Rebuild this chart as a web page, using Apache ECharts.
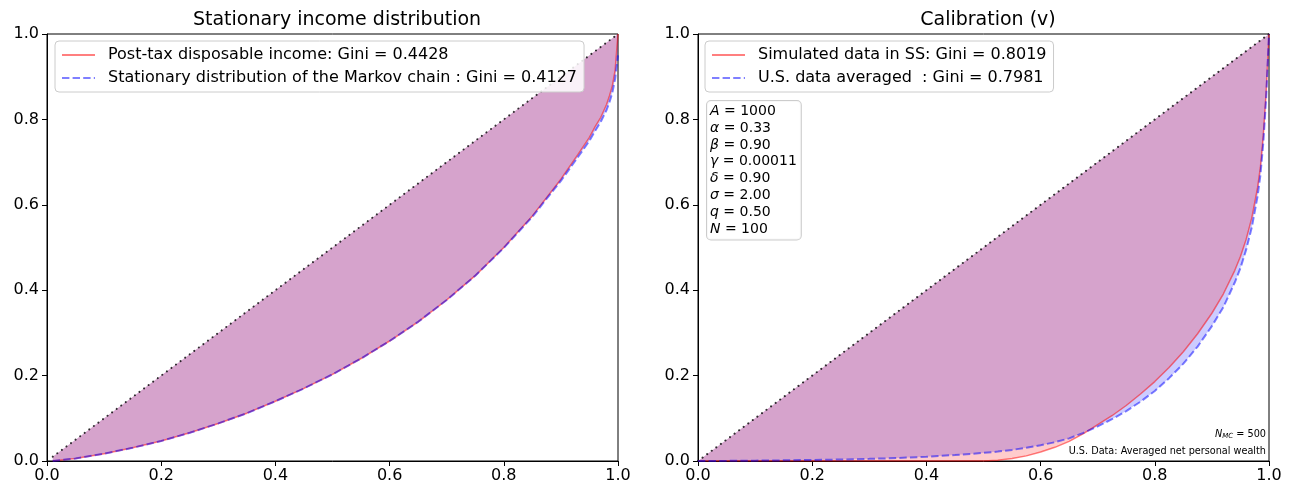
<!DOCTYPE html>
<html>
<head>
<meta charset="utf-8">
<script src="https://cdn.jsdelivr.net/npm/echarts@6/dist/echarts.min.js"></script>
<style>
  html, body { margin: 0; padding: 0; background: #fff; }
  #chart { width: 1293px; height: 488px; }
</style>
</head>
<body>
<div id="chart"></div>
<script>
// Population shares (x) and cumulative shares (y) for the Lorenz curves.
const incomePopShare = [0.01, 0.05, 0.10, 0.15, 0.20, 0.25, 0.30, 0.35, 0.40, 0.45, 0.50, 0.55, 0.60,
  0.65, 0.70, 0.75, 0.80, 0.85, 0.90, 0.93, 0.95, 0.96, 0.97, 0.98, 0.985, 0.99, 0.995, 1.00];
const postTaxIncome = [0.000, 0.006, 0.017, 0.031, 0.047, 0.066, 0.088, 0.112, 0.140, 0.170, 0.203, 0.240, 0.281,
  0.326, 0.377, 0.434, 0.500, 0.574, 0.660, 0.718, 0.758, 0.783, 0.805, 0.835, 0.855, 0.878, 0.915, 1.000];
const markovStationary = [0.000, 0.006, 0.017, 0.031, 0.047, 0.066, 0.088, 0.112, 0.140, 0.170, 0.203, 0.240, 0.281,
  0.326, 0.377, 0.434, 0.499, 0.572, 0.656, 0.712, 0.750, 0.773, 0.795, 0.822, 0.840, 0.862, 0.895, 0.950];

const wealthPopShare = [0.00, 0.05, 0.10, 0.15, 0.20, 0.25, 0.30, 0.35, 0.40, 0.45, 0.50, 0.525, 0.55, 0.575,
  0.60, 0.625, 0.65, 0.675, 0.70, 0.725, 0.75, 0.775, 0.80, 0.825, 0.85, 0.875, 0.90, 0.92, 0.94, 0.95,
  0.96, 0.97, 0.98, 0.985, 0.99, 0.995, 1.00];
const simulatedWealth = [0, 0, 0, 0, 0, 0, 0, 0, 0, 0, 0.000, 0.002, 0.006, 0.012,
  0.021, 0.032, 0.046, 0.064, 0.085, 0.106, 0.130, 0.157, 0.186, 0.219, 0.256, 0.298, 0.346, 0.391, 0.446, 0.479,
  0.519, 0.570, 0.640, 0.688, 0.762, 0.862, 1.000];
const usWealth = [0, 0.0003, 0.0008, 0.0015, 0.0025, 0.0035, 0.005, 0.007, 0.010, 0.014, 0.019, 0.022, 0.026, 0.031,
  0.037, 0.044, 0.053, 0.066, 0.081, 0.098, 0.117, 0.139, 0.164, 0.194, 0.228, 0.268, 0.316, 0.360, 0.418, 0.452,
  0.495, 0.548, 0.620, 0.670, 0.745, 0.850, 1.000];

const panelTitles = ['Stationary income distribution', 'Calibration (v)'];
const seriesNames = [
  'Post-tax disposable income: Gini = 0.4428',
  'Stationary distribution of the Markov chain : Gini = 0.4127',
  'Simulated data in SS: Gini = 0.8019',
  'U.S. data averaged  : Gini = 0.7981'
];
const tickLabels = ['0.0', '0.2', '0.4', '0.6', '0.8', '1.0'];

const paramNames = ['A', 'α', 'β', 'γ', 'δ', 'σ', 'q', 'N'];
const paramValues = ['1000', '0.33', '0.90', '0.00011', '0.90', '2.00', '0.50', '100'];
const monteCarloRuns = '500';
const dataNote = 'U.S. Data: Averaged net personal wealth';

const FONT = 'DejaVu Sans';
const RED_LINE = 'rgba(255,0,0,0.5)';
const BLUE_LINE = 'rgba(0,0,255,0.5)';
const RED_FILL = 'rgba(255,0,0,0.2)';
const BLUE_FILL = 'rgba(0,0,255,0.2)';

function pairs(xs, ys) { return xs.map((x, i) => [x, ys[i]]); }

// Polygon between the equality line (y = x) and a Lorenz curve.
function gapFill(gi, xs, ys, color) {
  return {
    type: 'custom', xAxisIndex: gi, yAxisIndex: gi, silent: true, z: 1,
    data: [[xs[0], ys[0]]],
    renderItem: function (params, api) {
      const pts = [];
      for (let i = 0; i < xs.length; i++) pts.push(api.coord([xs[i], xs[i]]));
      for (let i = xs.length - 1; i >= 0; i--) pts.push(api.coord([xs[i], ys[i]]));
      return { type: 'polygon', shape: { points: pts }, style: { fill: color } };
    }
  };
}

function equalityLine(gi, xs) {
  return {
    type: 'line', xAxisIndex: gi, yAxisIndex: gi, silent: true, z: 3,
    symbol: 'none', data: [[xs[0], xs[0]], [1, 1]],
    lineStyle: { color: 'rgba(0,0,0,0.8)', width: 2, type: [0.1, 5.6], cap: 'round' }
  };
}

function curve(gi, name, xs, ys, dashed) {
  return {
    type: 'line', name: name, xAxisIndex: gi, yAxisIndex: gi, z: 4,
    symbol: 'none', data: pairs(xs, ys), silent: true,
    lineStyle: dashed
      ? { color: BLUE_LINE, width: 2, type: [7.4, 3.2] }
      : { color: RED_LINE, width: 1.5 },
    itemStyle: { color: dashed ? BLUE_LINE : RED_LINE }
  };
}

function axisCommon(gi, isX) {
  return {
    gridIndex: gi, type: 'value', min: 0, max: 1, interval: 0.2,
    axisLine: { show: true, onZero: false, lineStyle: { color: '#000', width: 1 } },
    axisTick: { show: true, length: 5, lineStyle: { color: '#000', width: 1 } },
    splitLine: { show: false },
    axisLabel: {
      color: '#000', fontSize: 16, fontFamily: FONT, margin: isX ? 7 : 8,
      formatter: v => tickLabels[Math.round(v / 0.2)]
    }
  };
}

const grids = [
  { left: 47, top: 34, width: 571, height: 427 },
  { left: 698, top: 34, width: 571, height: 427 }
].map(g => Object.assign(g, { show: true, borderColor: '#000', borderWidth: 1, backgroundColor: 'transparent' }));

const legendCommon = {
  orient: 'vertical', top: 41, itemWidth: 33, itemHeight: 14, itemGap: 7,
  padding: [6, 7, 6, 6], backgroundColor: 'rgba(255,255,255,0.85)',
  borderColor: '#cccccc', borderWidth: 1, borderRadius: 4,
  selectedMode: false,
  itemStyle: { opacity: 0 },
  textStyle: { fontSize: 16, lineHeight: 16, fontFamily: FONT, color: '#000', padding: [0, 0, 0, 8] }
};

const paramText = paramNames.map((n, i) => '{i|' + n + '} = ' + paramValues[i]).join('\n');

const option = {
  animation: false,
  backgroundColor: '#fff',
  title: panelTitles.map((t, i) => ({
    text: t, left: i === 0 ? 332 : 983, top: 6, textAlign: 'center',
    textStyle: { fontSize: 19, fontWeight: 'normal', fontFamily: FONT, color: '#000' }
  })),
  grid: grids,
  xAxis: [axisCommon(0, true), axisCommon(1, true)],
  yAxis: [axisCommon(0, false), axisCommon(1, false)],
  legend: [
    Object.assign({}, legendCommon, { left: 55, data: [seriesNames[0], seriesNames[1]] }),
    Object.assign({}, legendCommon, { left: 705, data: [seriesNames[2], seriesNames[3]] })
  ],
  series: [
    gapFill(0, incomePopShare, markovStationary, BLUE_FILL),
    gapFill(0, incomePopShare, postTaxIncome, RED_FILL),
    equalityLine(0, incomePopShare),
    curve(0, seriesNames[0], incomePopShare, postTaxIncome, false),
    curve(0, seriesNames[1], incomePopShare, markovStationary, true),

    gapFill(1, wealthPopShare, usWealth, BLUE_FILL),
    gapFill(1, wealthPopShare, simulatedWealth, RED_FILL),
    equalityLine(1, wealthPopShare),
    curve(1, seriesNames[2], wealthPopShare, simulatedWealth, false),
    curve(1, seriesNames[3], wealthPopShare, usWealth, true)
  ],
  graphic: [
    {
      type: 'text', left: 706, top: 100, z: 10,
      style: {
        text: paramText,
        fontSize: 14, fontFamily: FONT, fill: '#000', lineHeight: 16.8,
        backgroundColor: 'rgba(255,255,255,0.85)', borderColor: '#cccccc', borderWidth: 1,
        borderRadius: 4, padding: [2, 4, 2, 3],
        rich: { i: { fontStyle: 'italic', fontSize: 14, fontFamily: FONT, lineHeight: 16.8 } }
      }
    },
    {
      type: 'text', right: 27, top: 429, z: 10,
      style: {
        text: '{i|N}{s|MC} = ' + monteCarloRuns,
        fontSize: 9.7, fontFamily: FONT, fill: '#000',
        rich: {
          i: { fontStyle: 'italic', fontSize: 9.7, fontFamily: FONT },
          s: { fontStyle: 'italic', fontSize: 7, fontFamily: FONT, verticalAlign: 'bottom', padding: [4, 0, 0, 0] }
        }
      }
    },
    {
      type: 'text', right: 27, top: 446, z: 10,
      style: { text: dataNote, fontSize: 9.7, fontFamily: FONT, fill: '#000' }
    }
  ]
};

const chart = echarts.init(document.getElementById('chart'), null, { renderer: 'canvas' });
chart.setOption(option);
</script>
</body>
</html>
